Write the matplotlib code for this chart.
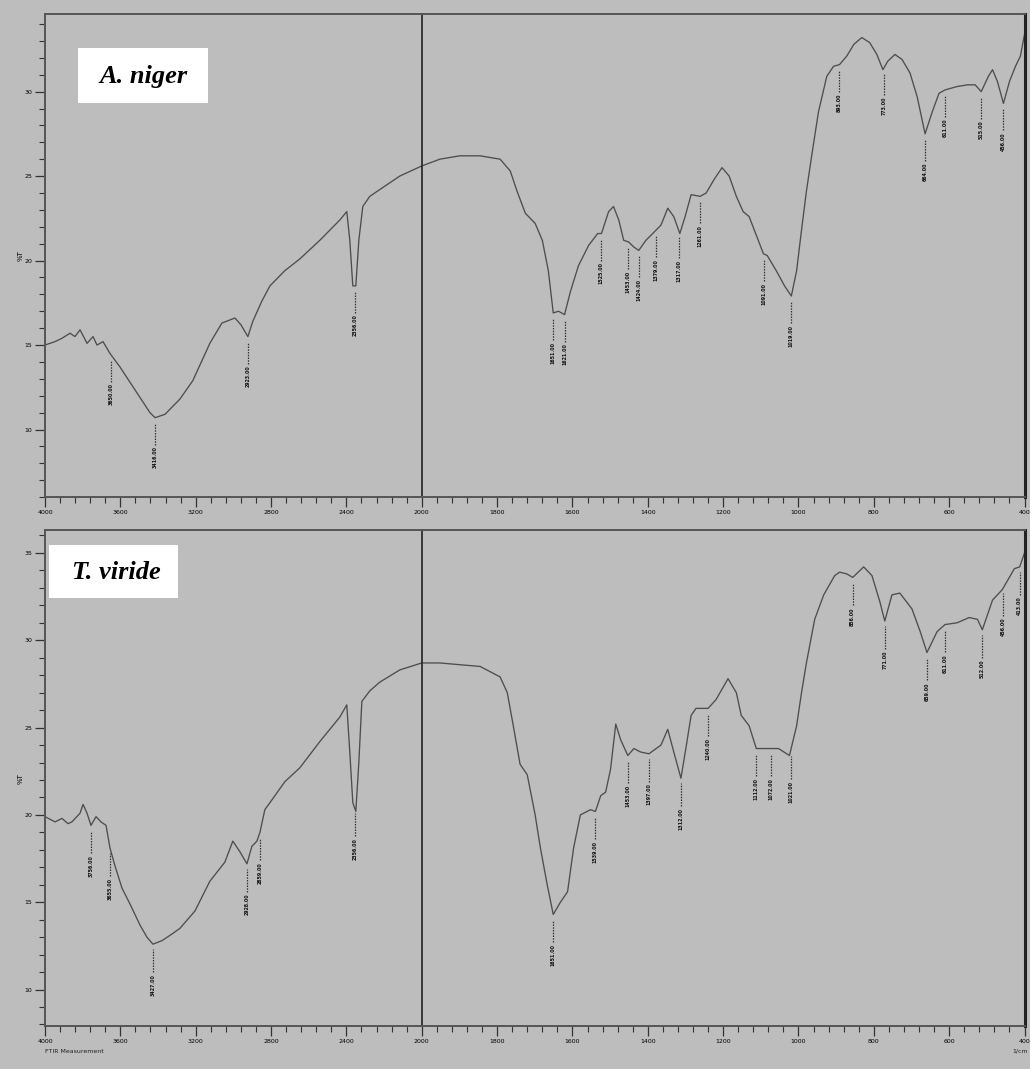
import numpy as np
import matplotlib
matplotlib.use("Agg")
from matplotlib import pyplot as plt
from matplotlib.patches import Rectangle

# ---- data (wavenumber cm-1, %T) ----
niger_wn = [4000, 3947, 3910, 3867, 3841, 3814, 3777, 3745, 3724, 3692, 3655, 3602, 3549,
            3496, 3443, 3416, 3363, 3284, 3215, 3125, 3061, 2992, 2960, 2923, 2897, 2849,
            2806, 2727, 2647, 2541, 2435, 2398, 2382, 2366, 2350, 2334, 2313, 2276, 2223,
            2117, 2000, 1952, 1899, 1845, 1792, 1765, 1747, 1725, 1699, 1680, 1664, 1651,
            1637, 1621, 1605, 1584, 1557, 1533, 1523, 1504, 1491, 1477, 1464, 1451, 1437,
            1424, 1405, 1387, 1365, 1347, 1331, 1315, 1301, 1285, 1261, 1245, 1224, 1203,
            1184, 1165, 1147, 1131, 1112, 1093, 1083, 1059, 1037, 1019, 1005, 992, 979,
            965, 947, 925, 907, 891, 872, 853, 832, 811, 792, 776, 763, 744, 725, 704, 685,
            664, 645, 627, 611, 579, 552, 531, 515, 496, 485, 472, 456, 440, 424, 411, 400]
niger_t = [15.0, 15.2, 15.4, 15.7, 15.5, 15.9, 15.1, 15.5, 15.0, 15.2, 14.5, 13.7, 12.8,
           11.9, 11.0, 10.7, 10.9, 11.8, 12.9, 15.1, 16.3, 16.6, 16.2, 15.5, 16.4, 17.6,
           18.5, 19.4, 20.1, 21.2, 22.4, 22.9, 21.2, 18.5, 18.5, 21.2, 23.2, 23.8, 24.2,
           25.0, 25.6, 26.0, 26.2, 26.2, 26.0, 25.3, 24.1, 22.8, 22.2, 21.2, 19.4, 16.9,
           17.0, 16.8, 18.2, 19.7, 20.9, 21.6, 21.6, 22.9, 23.2, 22.4, 21.2, 21.1, 20.8,
           20.6, 21.2, 21.6, 22.1, 23.1, 22.6, 21.6, 22.6, 23.9, 23.8, 24.0, 24.8, 25.5,
           25.0, 23.8, 22.9, 22.6, 21.5, 20.4, 20.3, 19.4, 18.5, 17.9, 19.4, 21.8, 24.1,
           26.2, 28.8, 30.9, 31.5, 31.6, 32.1, 32.8, 33.2, 32.9, 32.2, 31.3, 31.8, 32.2,
           31.9, 31.1, 29.7, 27.5, 28.8, 29.9, 30.1, 30.3, 30.4, 30.4, 30.0, 30.9, 31.3,
           30.6, 29.3, 30.6, 31.5, 32.1, 33.4]
niger_peaks = [3650, 3416, 2923, 2356, 1651, 1621, 1525, 1453, 1424, 1379, 1317, 1261,
               1091, 1019, 893, 773, 664, 611, 515, 456]

viride_wn = [4000, 3947, 3910, 3878, 3857, 3814, 3798, 3777, 3756, 3729, 3703, 3676, 3655,
             3629, 3591, 3549, 3496, 3459, 3427, 3379, 3337, 3284, 3204, 3125, 3045, 3003,
             2966, 2928, 2902, 2875, 2859, 2833, 2806, 2727, 2647, 2541, 2435, 2398, 2382,
             2366, 2350, 2334, 2318, 2276, 2223, 2117, 2000, 1952, 1899, 1845, 1792, 1773,
             1757, 1739, 1720, 1699, 1685, 1667, 1651, 1632, 1613, 1597, 1579, 1552, 1539,
             1525, 1512, 1499, 1485, 1472, 1453, 1437, 1419, 1397, 1365, 1347, 1331, 1312,
             1299, 1285, 1272, 1240, 1219, 1187, 1165, 1152, 1131, 1112, 1091, 1072, 1053,
             1024, 1005, 992, 979, 957, 933, 904, 891, 872, 856, 827, 805, 784, 771, 752,
             731, 699, 677, 659, 632, 611, 579, 547, 525, 512, 485, 459, 427, 413, 400]
viride_t = [19.9, 19.6, 19.8, 19.5, 19.6, 20.1, 20.6, 20.1, 19.4, 19.9, 19.6, 19.4, 18.1,
            17.1, 15.8, 14.9, 13.7, 13.0, 12.6, 12.8, 13.1, 13.5, 14.5, 16.2, 17.3, 18.5,
            17.9, 17.2, 18.2, 18.5, 19.0, 20.3, 20.7, 21.9, 22.7, 24.2, 25.6, 26.3, 23.6,
            20.7, 20.2, 23.0, 26.5, 27.1, 27.6, 28.3, 28.7, 28.7, 28.6, 28.5, 27.9, 27.0,
            25.1, 22.9, 22.3, 20.0, 18.1, 16.0, 14.3, 15.0, 15.6, 18.1, 20.0, 20.3, 20.2,
            21.1, 21.3, 22.6, 25.2, 24.3, 23.4, 23.8, 23.6, 23.5, 24.0, 24.9, 23.6, 22.1,
            23.8, 25.7, 26.1, 26.1, 26.6, 27.8, 27.0, 25.7, 25.1, 23.8, 23.8, 23.8, 23.8,
            23.4, 25.1, 27.0, 28.7, 31.2, 32.6, 33.7, 33.9, 33.8, 33.6, 34.2, 33.7, 32.2,
            31.1, 32.6, 32.7, 31.8, 30.5, 29.3, 30.5, 30.9, 31.0, 31.3, 31.2, 30.6, 32.3,
            32.9, 34.1, 34.2, 35.0]
viride_peaks = [3756, 3655, 3427, 2928, 2859, 2356, 1651, 1539, 1453, 1397, 1312, 1240,
                1112, 1072, 1021, 856, 771, 659, 611, 512, 456, 413]

major_ticks = [4000, 3600, 3200, 2800, 2400, 2000, 1800, 1600, 1400, 1200, 1000, 800, 600, 400]


# FTIR x axis: scale doubled below 2000 cm-1
def fwd(x):
    x = np.asarray(x, dtype=float)
    return np.where(x >= 2000, x, 2 * x - 2000)


def inv(u):
    u = np.asarray(u, dtype=float)
    return np.where(u >= 2000, u, (u + 2000) / 2)


BG = '#bdbdbd'
LINE = '#4d4d4d'

fig = plt.figure(figsize=(10.3, 10.69), dpi=100, facecolor=BG)
ax1 = fig.add_axes([0.0437, 0.535, 0.951, 0.452])
ax2 = fig.add_axes([0.0437, 0.040, 0.951, 0.464])


def draw(ax, wn, t, peaks, ylim, yticks, name, box, text_xy):
    ax.set_facecolor(BG)
    ax.set_xscale('function', functions=(fwd, inv))
    ax.set_xlim(4000, 400)
    ax.set_ylim(*ylim)
    ax.plot(wn, t, color=LINE, lw=0.95)
    ax.axvline(2000, color='#222222', lw=1.2)

    wn_a = np.array(wn)[::-1]
    t_a = np.array(t)[::-1]
    for p in peaks:
        yp = np.interp(p, wn_a, t_a)
        ax.vlines(p, yp - 1.6, yp - 0.3, colors='#333333', lw=0.9, linestyles=(0, (1.2, 1.0)))
        ax.text(p, yp - 1.7, f"{p:.2f}", rotation=90, fontsize=3.4, ha='center', va='top',
                color='#111111', fontweight='bold')

    ax.set_xticks(major_ticks)
    ax.set_xticklabels([str(v) for v in major_ticks], fontsize=4.5)
    minor = list(np.arange(4000, 2000, -80)) + list(np.arange(2000, 399, -40))
    ax.set_xticks(minor, minor=True)
    ax.set_yticks(yticks)
    ax.set_yticklabels([str(v) for v in yticks], fontsize=4.5)
    ax.set_yticks(np.arange(np.ceil(ylim[0]), ylim[1], 1.0), minor=True)
    ax.tick_params(which='major', length=7, width=0.9, color='#333333', pad=2)
    ax.tick_params(which='minor', length=4, width=0.8, color='#333333')
    for s in ['left', 'bottom', 'top']:
        ax.spines[s].set_color('#555555')
        ax.spines[s].set_linewidth(1.4)
    ax.spines['right'].set_color('#222222')
    ax.spines['right'].set_linewidth(2.2)
    ax.set_ylabel('%T', fontsize=5, labelpad=1)

    ax.add_patch(Rectangle((box[0], box[1]), box[2], box[3], transform=ax.transAxes,
                           facecolor='white', edgecolor='none', zorder=4))
    ax.text(text_xy[0], text_xy[1], name, transform=ax.transAxes, fontsize=19,
            family='Liberation Serif', style='italic', fontweight='bold',
            ha='center', va='center', zorder=5)


draw(ax1, niger_wn, niger_t, niger_peaks, (6.0, 34.6), [10, 15, 20, 25, 30],
     'A. niger', (0.034, 0.816, 0.132, 0.114), (0.100, 0.870))
draw(ax2, viride_wn, viride_t, viride_peaks, (7.9, 36.3), [10, 15, 20, 25, 30, 35],
     'T. viride', (0.004, 0.863, 0.132, 0.107), (0.073, 0.914))

ax2.text(0.0, -0.045, 'FTIR Measurement', transform=ax2.transAxes, fontsize=4.5,
         ha='left', va='top', color='#222222')
ax2.text(1.003, -0.045, '1/cm', transform=ax2.transAxes, fontsize=4.5,
         ha='right', va='top', color='#222222')

fig.savefig('out.png', dpi=100, facecolor=BG)
